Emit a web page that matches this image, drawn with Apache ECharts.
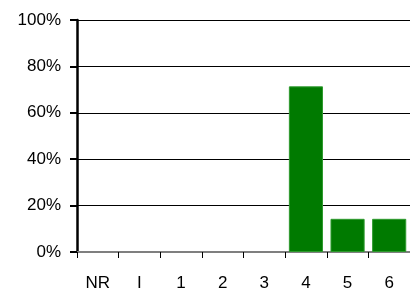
<!DOCTYPE html>
<html><head><meta charset="utf-8">
<script src="https://cdn.jsdelivr.net/npm/echarts@6/dist/echarts.min.js"></script>
<style>html,body{margin:0;padding:0;background:#fff}#c{width:410px;height:294px}</style>
</head><body><div id="c"></div>
<script>
const categories = ['NR', 'I', '1', '2', '3', '4', '5', '6'];
const values = [0, 0, 0, 0, 0, 71.4, 14.3, 14.3];
const yTicks = [0, 20, 40, 60, 80, 100];

const chart = echarts.init(document.getElementById('c'), null, {renderer: 'canvas'});
chart.setOption({
  animation: false,
  grid: {left: 77, right: 0, top: 20, bottom: 42},
  xAxis: {
    type: 'category',
    data: categories,
    axisLine: {lineStyle: {color: '#7f7f7f', width: 2}},
    axisTick: {show: true, length: 6, inside: false, lineStyle: {color: '#000', width: 1}},
    axisLabel: {color: '#000', fontFamily: 'Liberation Sans', fontSize: 17, margin: 23}
  },
  yAxis: {
    type: 'value',
    min: yTicks[0], max: yTicks[yTicks.length - 1], interval: 20,
    axisLine: {show: true, lineStyle: {color: '#000', width: 2.5}},
    axisTick: {show: true, length: 7, lineStyle: {color: '#000', width: 2}},
    axisLabel: {color: '#000', fontFamily: 'Liberation Sans', fontSize: 17, margin: 16, formatter: v => v + '%'},
    splitLine: {show: true, lineStyle: {color: '#000', width: 1}}
  },
  series: [{
    type: 'bar',
    data: values.map(v => v === 0 ? null : v),
    barCategoryGap: '18%',
    itemStyle: {color: '#007a00', borderColor: '#2e9a2e', borderWidth: 1}
  }]
});
</script></body></html>
